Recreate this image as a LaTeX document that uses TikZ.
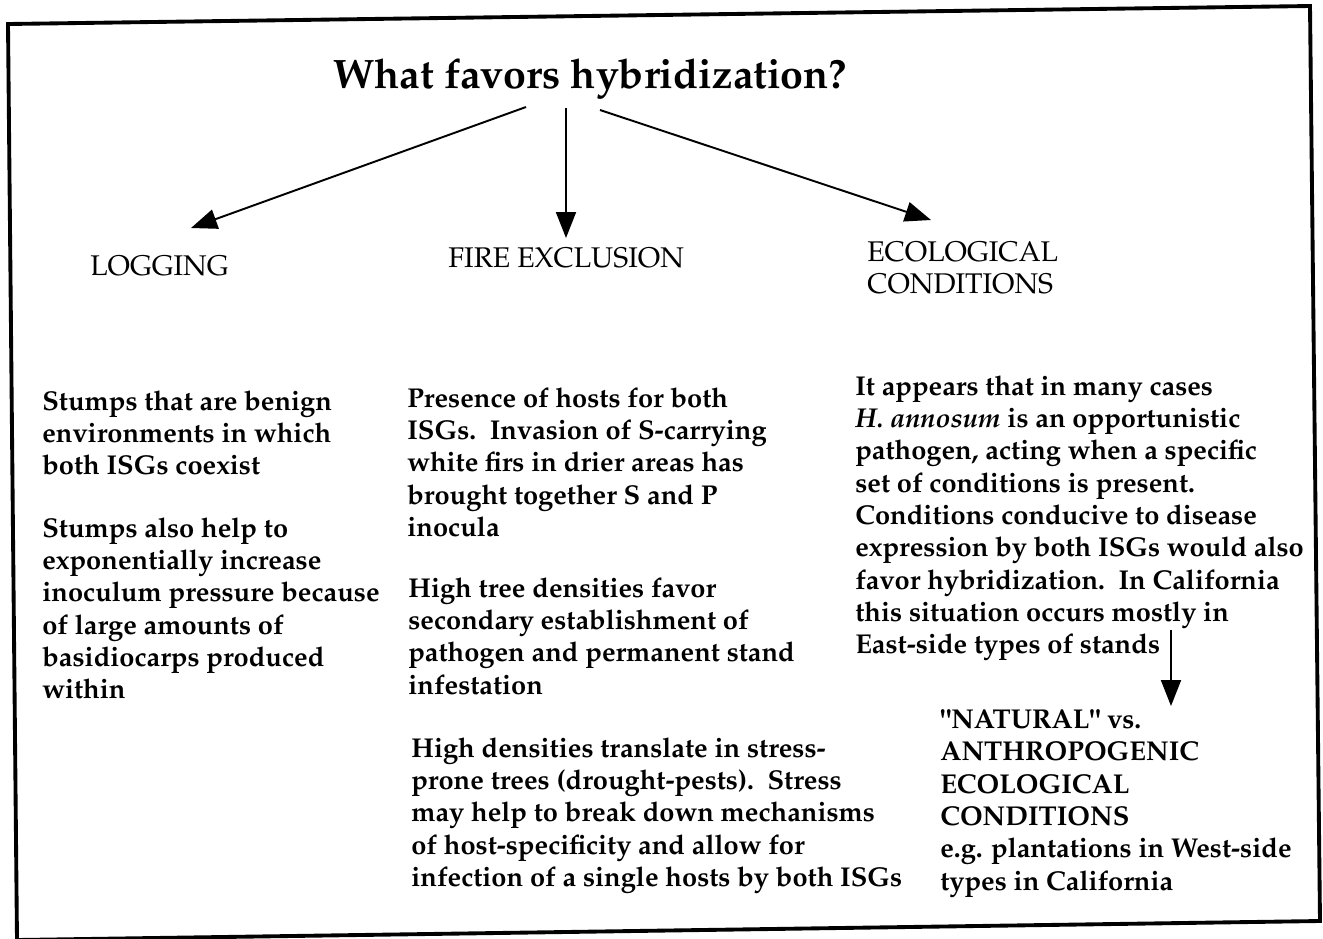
\documentclass[tikz,border=0pt]{standalone}
\usepackage[T1]{fontenc}
\renewcommand{\rmdefault}{ppl}
\usetikzlibrary{arrows.meta}
\usetikzlibrary{calc}
\usetikzlibrary{positioning}

\tikzset{
  body/.style={anchor=north west, align=left, inner sep=0pt,
    font=\fontsize{15.5}{18.4}\selectfont\bfseries},
  head/.style={inner sep=0pt, font=\fontsize{16.2}{18.7}\selectfont},
  arr/.style={line width=1.1pt, -{Triangle[length=0.52cm,width=0.4cm]}},
}

\begin{document}
\begin{tikzpicture}[x=0.02cm,y=-0.02cm]
	\useasboundingbox (0,0) rectangle (1323,938);
	
	% frame of the slide
	\draw [line width=2.2pt, line join=miter] (8,24) -- (1310,6) -- (1320,921) -- (17,940) -- cycle;
	
	\node [anchor=base west, inner sep=0pt, font=\fontsize{23.4}{28}\selectfont\bfseries] (title) at (333,88) {What favors hybridization?};
	
	\node [head, anchor=base west] (logging) at (90,275) {LOGGING};
	\node [head, anchor=base west] (fire) at (448,267) {FIRE EXCLUSION};
	\node [head, anchor=north west, align=left] (eco) at (867,241) {ECOLOGICAL\\CONDITIONS};
	
	\draw [arr] ($(title.base west)+(193,19)$) -- ($(logging.base west)+(101,-47)$);
	\draw [arr] ($(title.base west)+(233,20)$) -- ($(fire.base west)+(118,-29)$);
	\draw [arr] ($(title.base west)+(267,22)$) -- ($(eco.north west)+(64,-21)$);
	
	% logging
	\node [body] (stumps) at (42,390) {Stumps that are benign\\environments in which\\both ISGs coexist};
	\node [body] (inoculum) at (42,517) {Stumps also help to\\exponentially increase\\inoculum pressure because\\of large amounts of\\basidiocarps produced\\within};
	
	% fire exclusion
	\node [body] (hosts) at (407,387) {Presence of hosts for both\\ISGs.\ \ Invasion of S-carrying\\white firs in drier areas has\\brought together S and P\\inocula};
	\node [body] (density) at (408,577) {High tree densities favor\\secondary establishment of\\pathogen and permanent stand\\infestation};
	\node [body] (stress) at (411,737) {High densities translate in stress-\\prone trees (drought-pests).\ \ Stress\\may help to break down mechanisms\\of host-specificity and allow for\\infection of a single hosts by both ISGs};
	
	% ecological conditions
	\node [body] (opport) at (855,375) {It appears that in many cases\\\textit{H. annosum} is an opportunistic\\pathogen, acting when a specific\\set of conditions is present.\\Conditions conducive to disease\\expression by both ISGs would also\\favor hybridization.\ \ In California\\this situation occurs mostly in\\East-side types of stands};
	\node [body] (natural) at (940,709) {\textquotedbl NATURAL\textquotedbl{} vs.\\ANTHROPOGENIC\\ECOLOGICAL\\CONDITIONS\\e.g. plantations in West-side\\types in California};
	
	\draw [arr] ($(opport.north west)+(316,255)$) -- ($(natural.north west)+(231,-3)$);
\end{tikzpicture}
\end{document}
